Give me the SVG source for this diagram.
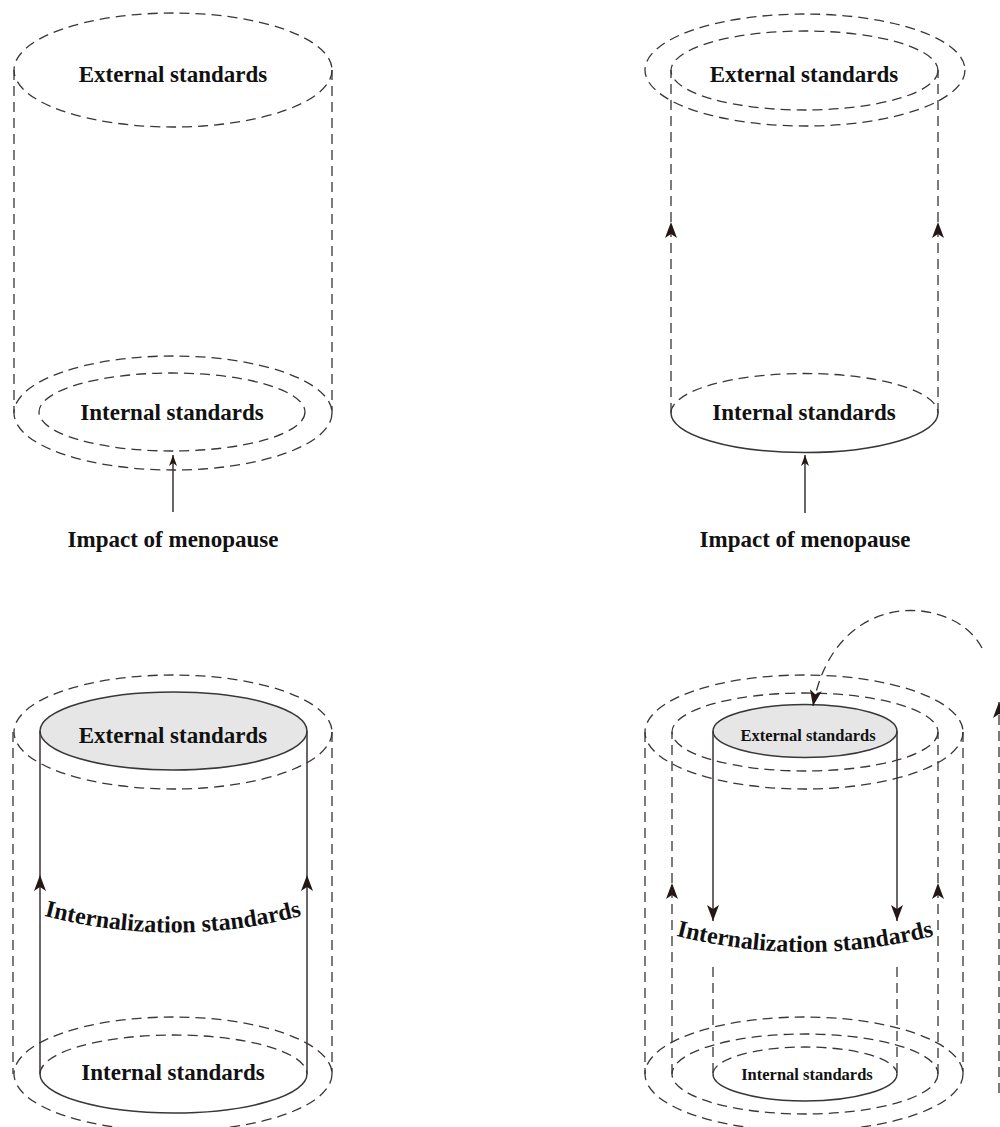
<svg xmlns="http://www.w3.org/2000/svg" width="1000" height="1127" viewBox="0 0 1000 1127">
<style>
.d{fill:none;stroke:#3a3536;stroke-width:1.3;stroke-dasharray:10 6}
.s{fill:none;stroke:#3a3536;stroke-width:1.5}
.g{fill:#e6e6e6;stroke:#3a3536;stroke-width:1.5}
.t{font-family:"Liberation Serif","Times New Roman",serif;font-weight:bold;font-size:23px;fill:#111;text-anchor:middle}
.sm{font-size:16.5px}
.big{font-size:24px}
</style>
<defs>
<marker id="ah" viewBox="0 0 16 12" refX="16" refY="6" markerWidth="16" markerHeight="12" markerUnits="userSpaceOnUse" orient="auto"><path d="M16,6 L0,0 L4,6 L0,12 Z" fill="#231815" stroke="none"/></marker>
<marker id="ahs" viewBox="0 0 11 8" refX="11" refY="4" markerWidth="11" markerHeight="8" markerUnits="userSpaceOnUse" orient="auto"><path d="M11,4 L0,0 L3,4 L0,8 Z" fill="#231815" stroke="none"/></marker>
<path id="arcL" d="M 30 912 Q 173 953 316 912"/>
<path id="arcR" d="M 662 932 Q 805 972 948 932"/>
</defs>

<!-- Panel 1 (top-left) -->
<g id="p1-external">
<ellipse class="d" cx="173" cy="70" rx="159" ry="57"/>
<text class="t" x="173" y="82">External standards</text>
</g>
<g id="p1-cylinder">
<line class="d" x1="14" y1="70" x2="14" y2="413"/>
<line class="d" x1="332" y1="70" x2="332" y2="413"/>
</g>
<g id="p1-internal">
<ellipse class="d" cx="173" cy="413" rx="159" ry="57"/>
<ellipse class="d" cx="172" cy="412" rx="133" ry="39"/>
<text class="t" x="172" y="420">Internal standards</text>
</g>
<g id="p1-impact">
<text class="t" x="173" y="547">Impact of menopause</text>
</g>

<!-- Panel 2 (top-right) -->
<g id="p2-external">
<ellipse class="d" cx="805" cy="70" rx="160" ry="56"/>
<ellipse class="d" cx="804.5" cy="70.5" rx="133.5" ry="39.5"/>
<text class="t" x="804" y="82">External standards</text>
</g>
<g id="p2-internal">
<path class="d" d="M 671 413 A 133.5 39.5 0 0 1 938 413"/>
<path class="s" d="M 671 413 A 133.5 39.5 0 0 0 938 413"/>
<text class="t" x="804" y="420">Internal standards</text>
</g>
<g id="p2-impact">
<text class="t" x="805" y="547">Impact of menopause</text>
</g>

<!-- Panel 3 (bottom-left) -->
<g id="p3-external">
<ellipse class="d" cx="173" cy="732" rx="159" ry="57"/>
<ellipse class="g" cx="173.5" cy="731" rx="133.5" ry="39"/>
<text class="t" x="173" y="743">External standards</text>
</g>
<g id="p3-internal">
<ellipse class="d" cx="173" cy="1074" rx="159" ry="57"/>
<path class="d" d="M 40 1074 A 133.5 39 0 0 1 307 1074"/>
<path class="s" d="M 40 1074 A 133.5 39 0 0 0 307 1074"/>
<text class="t" x="173" y="1080">Internal standards</text>
</g>
<g id="p3-internalization">
<text class="t big"><textPath href="#arcL" startOffset="50%">Internalization standards</textPath></text>
</g>

<!-- Panel 4 (bottom-right) -->
<g id="p4-external">
<ellipse class="d" cx="804" cy="732" rx="159" ry="57"/>
<ellipse class="d" cx="805" cy="732" rx="133" ry="39"/>
<ellipse class="g" cx="805" cy="731" rx="92" ry="26.5"/>
<text class="t sm" x="808" y="741">External standards</text>
</g>
<g id="p4-internal">
<ellipse class="d" cx="804" cy="1074" rx="159" ry="57"/>
<ellipse class="d" cx="805" cy="1074" rx="133" ry="40"/>
<path class="d" d="M 713 1074 A 92 27 0 0 1 897 1074"/>
<path class="s" d="M 713 1074 A 92 27 0 0 0 897 1074"/>
<text class="t sm" x="807" y="1080">Internal standards</text>
</g>
<g id="p4-internalization">
<text class="t big"><textPath href="#arcR" startOffset="50%">Internalization standards</textPath></text>
</g>

<!-- Connectors -->
<g id="connectors">
<!-- panel 1 -->
<line class="s" x1="173" y1="512" x2="173" y2="455" stroke-width="1.3" marker-end="url(#ahs)"/>
<!-- panel 2 -->
<line class="d" x1="671" y1="413" x2="671" y2="222" marker-end="url(#ah)"/>
<line class="d" x1="671" y1="222" x2="671" y2="70"/>
<line class="d" x1="938" y1="413" x2="938" y2="222" marker-end="url(#ah)"/>
<line class="d" x1="938" y1="222" x2="938" y2="70"/>
<line class="s" x1="805" y1="513" x2="805" y2="455" stroke-width="1.3" marker-end="url(#ahs)"/>
<!-- panel 3 -->
<line class="d" x1="13" y1="732" x2="13" y2="1074"/>
<line class="d" x1="332" y1="732" x2="332" y2="1074"/>
<line class="s" x1="40" y1="1074" x2="40" y2="875" marker-end="url(#ah)"/>
<line class="s" x1="40" y1="875" x2="40" y2="731"/>
<line class="s" x1="307" y1="1074" x2="307" y2="875" marker-end="url(#ah)"/>
<line class="s" x1="307" y1="875" x2="307" y2="731"/>
<!-- panel 4 -->
<line class="d" x1="645" y1="732" x2="645" y2="1074"/>
<line class="d" x1="963" y1="732" x2="963" y2="1074"/>
<line class="d" x1="672" y1="1074" x2="672" y2="883" marker-end="url(#ah)"/>
<line class="d" x1="672" y1="883" x2="672" y2="732"/>
<line class="d" x1="938" y1="1074" x2="938" y2="883" marker-end="url(#ah)"/>
<line class="d" x1="938" y1="883" x2="938" y2="732"/>
<line class="s" x1="713" y1="731" x2="713" y2="921" marker-end="url(#ah)"/>
<line class="s" x1="897" y1="731" x2="897" y2="921" marker-end="url(#ah)"/>
<line class="d" x1="713" y1="967" x2="713" y2="1074"/>
<line class="d" x1="897" y1="967" x2="897" y2="1074"/>
<path class="d" d="M 982 648 C 955 595 835 585 813 706" marker-end="url(#ah)"/>
<line class="d" x1="999" y1="1093" x2="999" y2="702" marker-end="url(#ah)"/>
</g>
</svg>
